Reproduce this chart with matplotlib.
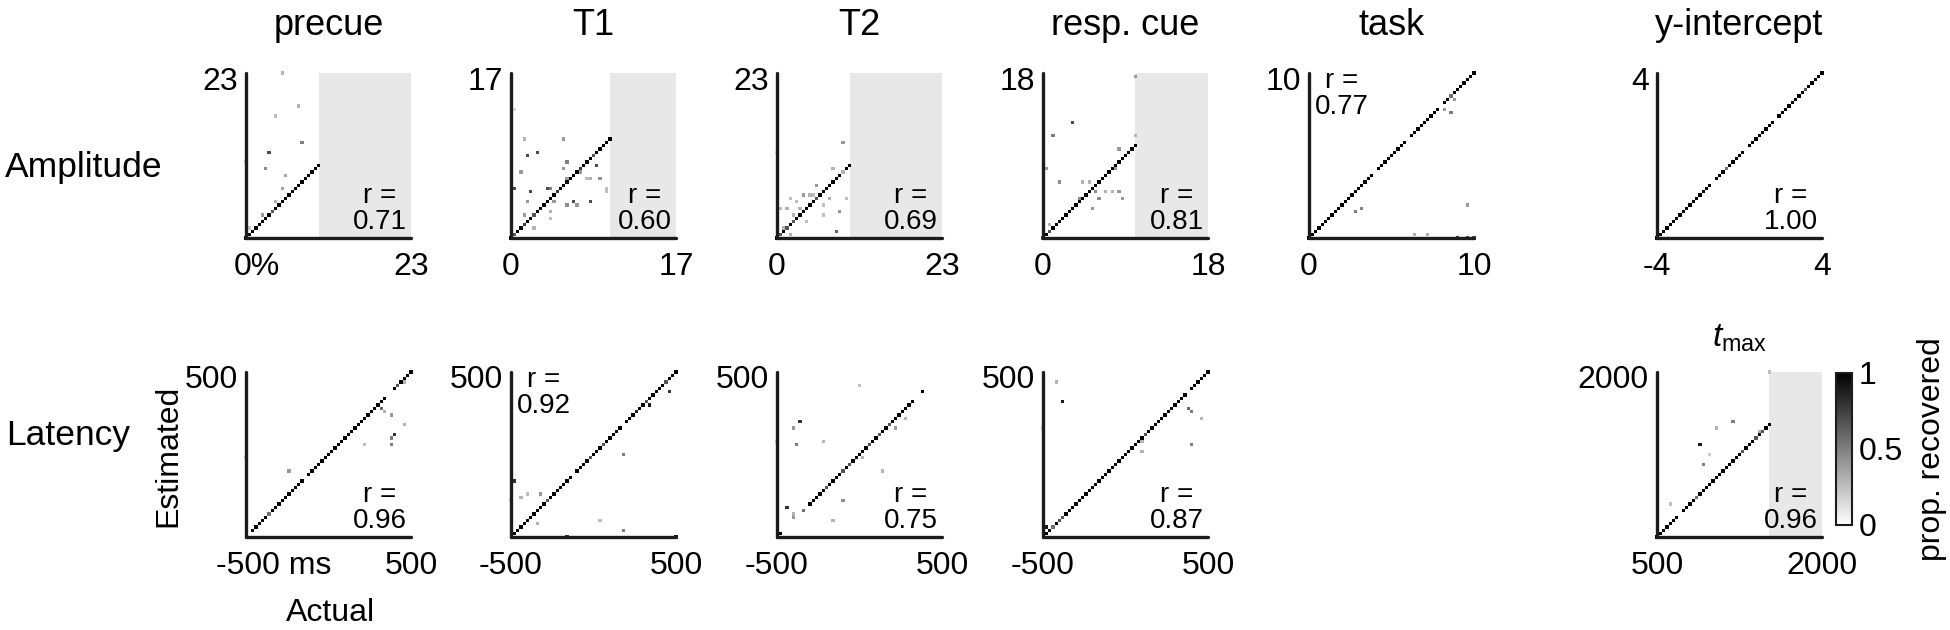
import numpy as np
import matplotlib as mpl
import matplotlib.pyplot as plt
from matplotlib.transforms import ScaledTranslation

plt.rcParams['font.family'] = ['Liberation Sans', 'DejaVu Sans']
plt.rcParams['mathtext.fontset'] = 'custom'
plt.rcParams['mathtext.rm'] = 'Liberation Sans'
plt.rcParams['mathtext.it'] = 'Liberation Sans:italic'

# diagonal cells: one digit per bin (0 = empty, 9 = all recovered), 50 bins per axis
# off-diagonal cells: (actual, estimated, proportion)
precue_amp_diag = "9999999969 9999999999 999"
precue_amp_off = [(5.2, 22.9, 0.3), (7.4, 18.3, 0.3), (4.3, 17.0, 0.25), (7.9, 13.2, 0.5),
                  (3.2, 11.8, 0.7), (2.8, 9.5, 0.45), (5.7, 8.7, 0.35), (5.2, 6.7, 0.35),
                  (4.2, 4.9, 0.3), (2.5, 3.0, 0.4), (0.6, 1.6, 0.2), (0.2, 10.4, 0.2)]

t1_amp_diag = "9699799699 9999799999 9799969999 9"
t1_amp_off = [(1.2, 10.1, 0.3), (5.3, 10.1, 0.4), (1.6, 8.5, 0.7), (2.6, 8.7, 0.7), (0.9, 6.7, 0.4),
              (0.5, 5.0, 0.7), (1.9, 4.7, 0.7), (3.6, 5.0, 0.7), (4.0, 5.0, 0.5), (1.6, 3.7, 0.4),
              (1.2, 2.3, 0.4), (2.3, 0.9, 0.3), (4.0, 2.6, 0.3), (4.0, 2.2, 0.25), (4.3, 3.6, 0.4),
              (5.7, 7.7, 0.5), (5.3, 7.0, 0.4), (5.7, 6.0, 0.4), (5.7, 3.3, 0.45), (6.4, 3.7, 0.7),
              (6.7, 3.3, 0.4), (7.1, 6.7, 0.4), (7.7, 6.0, 0.25), (8.1, 6.0, 0.3), (8.8, 7.4, 0.7),
              (9.1, 6.0, 0.4), (8.1, 3.9, 0.7), (9.8, 5.0, 0.25), (9.8, 4.7, 0.25), (0.2, 13.2, 0.15)]

t2_amp_diag = "9696969999 9969999999 999"
t2_amp_off = [(9.3, 13.2, 0.4), (0.0, 11.8, 0.15), (7.9, 9.5, 0.3), (9.3, 9.0, 0.3), (5.5, 7.2, 0.4),
              (3.7, 6.2, 0.4), (1.8, 5.3, 0.25), (2.8, 4.9, 0.25), (0.5, 4.0, 0.25), (1.4, 4.0, 0.3),
              (3.2, 4.0, 0.3), (2.3, 3.0, 0.3), (6.5, 4.4, 0.25), (6.5, 3.2, 0.25), (7.4, 5.3, 0.3),
              (8.8, 3.7, 0.4), (9.7, 5.3, 0.25), (4.2, 2.2, 0.25), (8.3, 0.8, 0.6), (0.9, 1.2, 0.3),
              (1.8, 0.5, 0.3), (4.9, 5.8, 0.25), (4.4, 6.2, 0.3)]

resp_amp_diag = "6969999999 9999999999 999999999"
resp_amp_off = [(9.9, 17.6, 0.4), (3.3, 12.5, 0.7), (1.2, 11.0, 0.5), (9.9, 11.0, 0.3), (0.4, 7.4, 0.4),
                (1.9, 6.0, 0.45), (4.4, 6.0, 0.3), (5.1, 6.0, 0.3), (8.4, 9.6, 0.4), (8.0, 7.4, 0.4),
                (5.9, 4.9, 0.45), (6.2, 4.5, 0.45), (7.0, 4.9, 0.3), (7.7, 5.2, 0.3), (8.4, 5.2, 0.4),
                (8.8, 4.2, 0.4), (5.5, 3.4, 0.4), (4.1, 4.5, 0.45), (0.8, 1.3, 0.3)]

task_amp_diag = "9999999999 9999999999 0999999999 0999999999 0995999999 9"
task_amp_off = [(2.7, 1.7, 0.5), (3.1, 1.9, 0.5), (9.7, 2.1, 0.4), (6.5, 0.2, 0.3), (7.3, 0.2, 0.3),
                (9.1, 0.0, 0.8), (9.5, 0.0, 0.7), (9.9, 0.0, 0.7), (8.7, 7.6, 0.5), (8.2, 7.8, 0.4),
                (8.8, 8.4, 0.4)]

yint_amp_diag = "9999999999 9999999099 9599999099 9999990999 9999969999 9"
yint_amp_off = []

precue_lat_diag = "0099999599 9999999909 9999999999 9999999999 9990096999 9"
precue_lat_off = [(311, 275, 0.6), (331, 255, 0.3), (371, 234, 0.4), (452, 174, 0.3), (391, 114, 0.8),
                  (371, 94, 0.5), (371, 53, 0.5), (230, 53, 0.25), (-232, -108, 0.4), (-494, -27, 0.2),
                  (462, 446, 0.3)]

t1_lat_diag = "0999999999 9699999990 9999699969 9999099989 9699999699 9"
t1_lat_off = [(-474, -168, 0.8), (-434, -269, 0.3), (-393, -248, 0.25), (-313, -248, 0.4),
              (-333, -430, 0.3), (-152, -490, 0.8), (49, -409, 0.25), (170, -470, 0.5),
              (492, -494, 0.9), (190, -7, 0.5), (-494, -289, 0.15), (450, 372, 0.8), (330, 310, 0.9)]

t2_lat_diag = "0900000050 9999969999 6969999969 9699699999 9900900000 0"
t2_lat_off = [(9, 411, 0.25), (-353, 194, 0.8), (-393, 154, 0.4), (-373, 53, 0.5), (-212, 73, 0.3),
              (271, 214, 0.3), (210, 164, 0.4), (130, -108, 0.3), (29, -27, 0.3), (-92, -289, 0.45),
              (-152, -409, 0.3), (-434, -329, 0.8), (-393, -369, 0.3), (-393, -389, 0.4),
              (-500, 73, 0.2)]

resp_lat_diag = "0995966999 9999999999 9999999999 9699999999 9999099999 9"
resp_lat_off = [(-415, 436, 0.3), (-375, 315, 0.9), (-496, 154, 0.2), (389, 275, 0.6), (409, 255, 0.5),
                (450, 214, 0.3), (409, 53, 0.5), (108, 13, 0.3), (108, 73, 0.3), (-476, -440, 0.9)]

tmax_diag = "9999999099 9959999999 9999996999 69699"
tmax_off = [(1508, 1991, 0.25), (1176, 1538, 0.5), (1025, 1478, 0.3), (904, 1327, 0.9),
            (965, 1236, 0.2), (935, 1146, 0.5), (633, 814, 0.25), (1417, 1463, 0.3)]

titles = ['precue', 'T1', 'T2', 'resp. cue', 'task', 'y-intercept']
r_values = {'amp': ['0.71', '0.60', '0.69', '0.81', '0.77', '1.00'],
            'lat': ['0.96', '0.92', '0.75', '0.87', '0.96']}

# layout in pixels
W, H = 1950, 630
S = 165
col_left = [246, 511, 777, 1043, 1309, 1657]
row_top = [73, 372]

fig = plt.figure(figsize=(W / 100, H / 100), dpi=100)

# row, col, lo, hi, diag, off, r, corner, xlabels, shade_from, x label shift (px)
panels = [
    (0, 0, 0, 23, precue_amp_diag, precue_amp_off, r_values['amp'][0], 'br', ['0%', '23'], 10.12, 11),
    (0, 1, 0, 17, t1_amp_diag, t1_amp_off, r_values['amp'][1], 'br', ['0', '17'], 10.2, 0),
    (0, 2, 0, 23, t2_amp_diag, t2_amp_off, r_values['amp'][2], 'br', ['0', '23'], 10.12, 0),
    (0, 3, 0, 18, resp_amp_diag, resp_amp_off, r_values['amp'][3], 'br', ['0', '18'], 10.08, 0),
    (0, 4, 0, 10, task_amp_diag, task_amp_off, r_values['amp'][4], 'tl', ['0', '10'], None, 0),
    (0, 5, -4, 4, yint_amp_diag, yint_amp_off, r_values['amp'][5], 'br', ['-4', '4'], None, 0),
    (1, 0, -500, 500, precue_lat_diag, precue_lat_off, r_values['lat'][0], 'br', ['-500 ms', '500'], None, 28),
    (1, 1, -500, 500, t1_lat_diag, t1_lat_off, r_values['lat'][1], 'tl', ['-500', '500'], None, 0),
    (1, 2, -500, 500, t2_lat_diag, t2_lat_off, r_values['lat'][2], 'br', ['-500', '500'], None, 0),
    (1, 3, -500, 500, resp_lat_diag, resp_lat_off, r_values['lat'][3], 'br', ['-500', '500'], None, 0),
    (1, 5, 500, 2000, tmax_diag, tmax_off, r_values['lat'][4], 'br', ['500', '2000'], 1520, 0),
]

ink = '#1c1c1c'
for row, col, lo, hi, diag, off, r, corner, xlabels, shade, xshift in panels:
    left, top = col_left[col], row_top[row]
    ax = fig.add_axes([left / W, 1 - (top + S) / H, S / W, S / H])
    ax.set_xlim(lo, hi)
    ax.set_ylim(lo, hi)

    step = (hi - lo) / 50
    p = np.array([int(c) for c in diag.replace(' ', '')]) / 9
    grid = lo + step * np.arange(len(p))
    keep = p > 0
    xs, ys, cs = grid[keep], grid[keep], p[keep]
    if off:
        o = np.array(off, dtype=float)
        ox = lo + np.round((o[:, 0] - lo) / step) * step
        oy = lo + np.round((o[:, 1] - lo) / step) * step
        xs, ys, cs = np.r_[xs, ox], np.r_[ys, oy], np.r_[cs, o[:, 2]]
    ax.scatter(xs, ys, c=cs, cmap='gray_r', vmin=0, vmax=1, marker='s', s=5.5,
               linewidths=0, clip_on=False, zorder=2)

    if shade is not None:
        ax.axvspan(shade, hi, color='#e8e8e8', lw=0, zorder=0)

    for side in ['top', 'right']:
        ax.spines[side].set_visible(False)
    for side in ['left', 'bottom']:
        ax.spines[side].set_linewidth(2.4)
        ax.spines[side].set_color(ink)
        ax.spines[side].set_capstyle('round')
        ax.spines[side].set_zorder(3)

    ax.set_xticks([lo, hi], xlabels)
    ax.set_yticks([hi], [xlabels[1]])
    ax.tick_params(length=0, labelsize=23, colors='black')
    ax.tick_params(axis='x', pad=10)
    ax.tick_params(axis='y', pad=6)
    xl = ax.get_xticklabels()
    xl[0].set_transform(xl[0].get_transform() + ScaledTranslation(xshift / 100, 0, fig.dpi_scale_trans))
    for lab in ax.get_yticklabels():
        lab.set_transform(lab.get_transform() + ScaledTranslation(0, -0.05, fig.dpi_scale_trans))

    txt = 'r =\n' + r
    if corner == 'br':
        ax.text(0.975, 0.02, txt, transform=ax.transAxes, ha='right', va='bottom',
                multialignment='center', fontsize=20, linespacing=1.0, zorder=4)
    else:
        ax.text(0.035, 1.03, txt, transform=ax.transAxes, ha='left', va='top',
                multialignment='center', fontsize=20, linespacing=1.0, zorder=4)

# column titles
for col, t in enumerate(titles):
    fig.text((col_left[col] + S / 2) / W, 1 - 35 / H, t, ha='center', va='baseline', fontsize=26)
fig.text((col_left[5] + S / 2) / W, 1 - 347 / H, r'$t_{\mathrm{max}}$', ha='center', va='baseline',
         fontsize=24)

# row and axis labels
fig.text(5 / W, 1 - 168 / H, 'Amplitude', ha='left', va='center', fontsize=25.5)
fig.text(6 / W, 1 - 435 / H, 'Latency', ha='left', va='center', fontsize=25.5)
fig.text(168 / W, 1 - 456 / H, 'Estimated', rotation=90, ha='center', va='center', fontsize=23)
fig.text(330 / W, 1 - 613 / H, 'Actual', ha='center', va='center', fontsize=23)

# colorbar
cax = fig.add_axes([1836 / W, 1 - 525 / H, 16 / W, 152 / H])
sm = mpl.cm.ScalarMappable(norm=mpl.colors.Normalize(0, 1), cmap='gray_r')
cb = fig.colorbar(sm, cax=cax, ticks=[0, 0.5, 1])
cb.ax.set_yticklabels(['0', '0.5', '1'])
cb.ax.tick_params(length=0, labelsize=23, pad=5)
cb.outline.set_linewidth(1.5)
cb.outline.set_edgecolor(ink)
fig.text(1932 / W, 1 - 449 / H, 'prop. recovered', rotation=90, ha='center', va='center', fontsize=23)

fig.savefig('out.png', dpi=100)
